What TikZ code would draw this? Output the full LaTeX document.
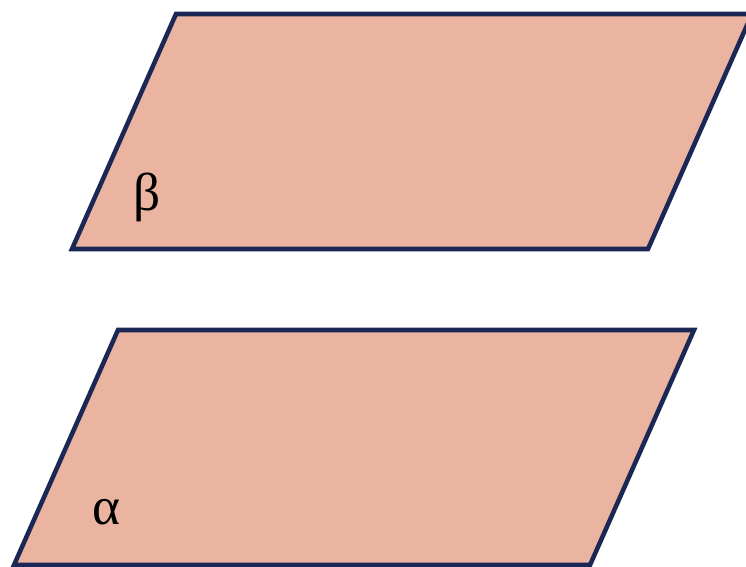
\documentclass[tikz,border=0pt]{standalone}
\usepackage{fontspec}
\setmainfont{Liberation Serif}
\usetikzlibrary{math}
\definecolor{planefill}{RGB}{234,180,160}
\definecolor{planeedge}{RGB}{27,40,85}

\begin{document}
\begin{tikzpicture}[x=0.75pt, y=-0.75pt,
	plane/.style={fill=planefill, draw=planeedge, line width=3.4pt, line join=miter},
	planelabel/.style={font=\fontsize{40}{46}\selectfont, inner sep=0pt}]
	% Constants
	\tikzmath{
		\planewidth = 576; \planeshift = 104; \planeheight = 235;
	}
	\useasboundingbox (0,0) rectangle (746,567);

	% Upper plane
	\draw[plane] (72,249) -- ++(\planeshift,-\planeheight) -- ++(\planewidth,0) -- ++(-\planeshift,\planeheight) -- cycle;
	\node[planelabel] (beta) at (147,197) {β};

	% Lower plane
	\draw[plane] (14,565) -- ++(\planeshift,-\planeheight) -- ++(\planewidth,0) -- ++(-\planeshift,\planeheight) -- cycle;
	\node[planelabel] (alpha) at (106,512) {α};
\end{tikzpicture}
\end{document}
